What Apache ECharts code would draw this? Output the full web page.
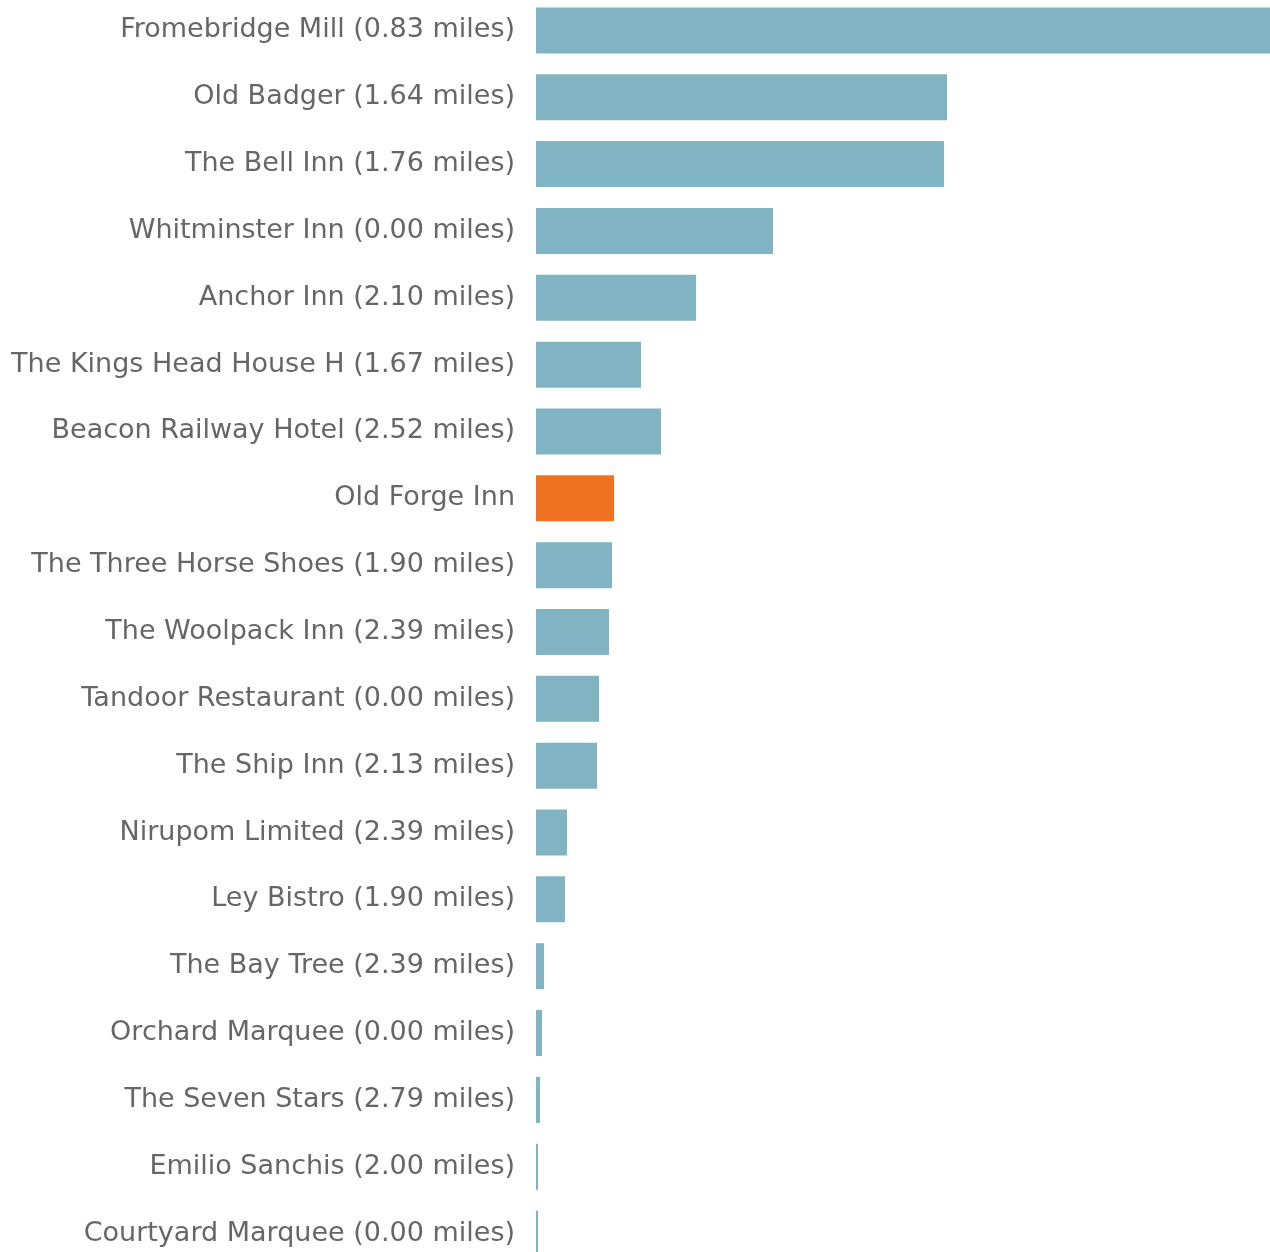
<!DOCTYPE html>
<html><head><meta charset="utf-8">
<script src="https://cdn.jsdelivr.net/npm/echarts@6/dist/echarts.min.js"></script>
<style>html,body{margin:0;padding:0;background:#fff;overflow:hidden}#c{width:1270px;height:1270px;margin-top:-3px}</style>
</head><body><div id="c"></div>
<script>
const categories = ["Fromebridge Mill (0.83 miles)","Old Badger (1.64 miles)","The Bell Inn (1.76 miles)","Whitminster Inn (0.00 miles)","Anchor Inn (2.10 miles)","The Kings Head House H (1.67 miles)","Beacon Railway Hotel (2.52 miles)","Old Forge Inn","The Three Horse Shoes (1.90 miles)","The Woolpack Inn (2.39 miles)","Tandoor Restaurant (0.00 miles)","The Ship Inn (2.13 miles)","Nirupom Limited (2.39 miles)","Ley Bistro (1.90 miles)","The Bay Tree (2.39 miles)","Orchard Marquee (0.00 miles)","The Seven Stars (2.79 miles)","Emilio Sanchis (2.00 miles)","Courtyard Marquee (0.00 miles)"];
const values = [734,411,408,237,160,105,125,78,76,73,63,61,31,29,8,6,4,2,2];
const highlight = "Old Forge Inn";
const chart = echarts.init(document.getElementById('c'), null, {renderer:'canvas'});
chart.setOption({
  animation:false,
  grid:{left:536,right:0,top:0,bottom:0,containLabel:false},
  xAxis:{type:'value',min:0,max:734,show:false},
  yAxis:{type:'category',data:categories,inverse:true,
    axisLine:{show:false},axisTick:{show:false},
    axisLabel:{margin:21,color:'#666666',fontSize:27,fontFamily:'DejaVu Sans'}},
  series:[{type:'bar',barWidth:46,
    data:values.map((v,i)=>({value:v,itemStyle:{color:categories[i]===highlight?'#F07122':'#81B4C2'}}))}]
});
</script></body></html>
